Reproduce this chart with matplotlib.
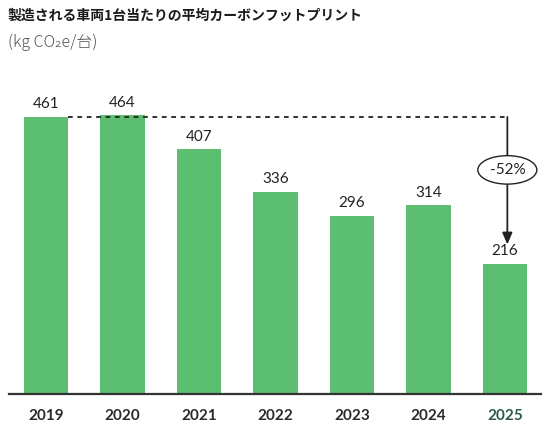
import matplotlib
matplotlib.use("Agg")
import matplotlib.pyplot as plt
from matplotlib.transforms import offset_copy

plt.rcParams['font.family'] = ['Noto Sans CJK JP', 'DejaVu Sans']

years = ["2019", "2020", "2021", "2022", "2023", "2024", "2025"]
values = [461, 464, 407, 336, 296, 314, 216]
change_label = "-52%"
title = "製造される車両1台当たりの平均カーボンフットプリント"
subtitle = "(kg CO₂e/台)"

BAR = "#5cbe70"
DARK = "#222222"

fig = plt.figure(figsize=(5.51, 4.32), dpi=100)
ax = fig.add_axes([9/551, (432-393.5)/432, 532/551, 333.5/432])
x = list(range(len(years)))
bw = 0.58
ax.bar(x, values, width=bw, color=BAR, zorder=2)
ax.set_xlim(-0.484, 6.47)
ax.set_ylim(0, 556)

for s in ["top", "right", "left"]:
    ax.spines[s].set_visible(False)
ax.spines["bottom"].set_color("#333333")
ax.spines["bottom"].set_linewidth(1.6)
ax.set_yticks([])
ax.set_xticks(x)
ax.set_xticklabels(years, fontfamily="Lato", fontweight="bold", fontsize=11)
ax.tick_params(axis="x", length=0, pad=11)
for i, lab in enumerate(ax.get_xticklabels()):
    lab.set_color("#2d5a4c" if i == len(years) - 1 else "#2a2a2a")

for xi, v in zip(x, values):
    ax.annotate(str(v), (xi, v), xytext=(0, 4), textcoords="offset points",
                ha="center", va="bottom", fontsize=11, fontfamily="Lato",
                color=DARK)

# dashed reference line at first year's level
ref = values[0]
last = len(values) - 1
ax.plot([0 + bw/2, last + 0.03], [ref, ref], ls=(0, (2.6, 2.6)), color=DARK,
        lw=1.3, zorder=3)
# vertical arrow
tip_tr = offset_copy(ax.transData, fig=fig, y=14, units="points")
ax.annotate("", xy=(last + 0.03, values[-1]), xycoords=tip_tr,
            xytext=(last + 0.03, ref), textcoords="data",
            arrowprops=dict(arrowstyle="-|>,head_width=0.3,head_length=0.7",
                            color=DARK, lw=1.3, shrinkA=0, shrinkB=0), zorder=3)
ymid = ref - 0.36 * (ref - values[-1])
ax.text(last + 0.03, ymid, change_label, ha="center", va="center",
        fontsize=11, fontfamily="Lato", color=DARK, zorder=4,
        bbox=dict(boxstyle="ellipse,pad=0.2", fc="white", ec=DARK, lw=1.0))

fig.text(8/551, 1 - 16/432, title, fontsize=10, fontweight="bold",
         color="#1a1a1a", va="center", ha="left")
fig.text(8/551, 1 - 42/432, subtitle, fontsize=11.5, fontweight="light",
         color="#555555", va="center", ha="left")

fig.savefig("out.png", dpi=100)
